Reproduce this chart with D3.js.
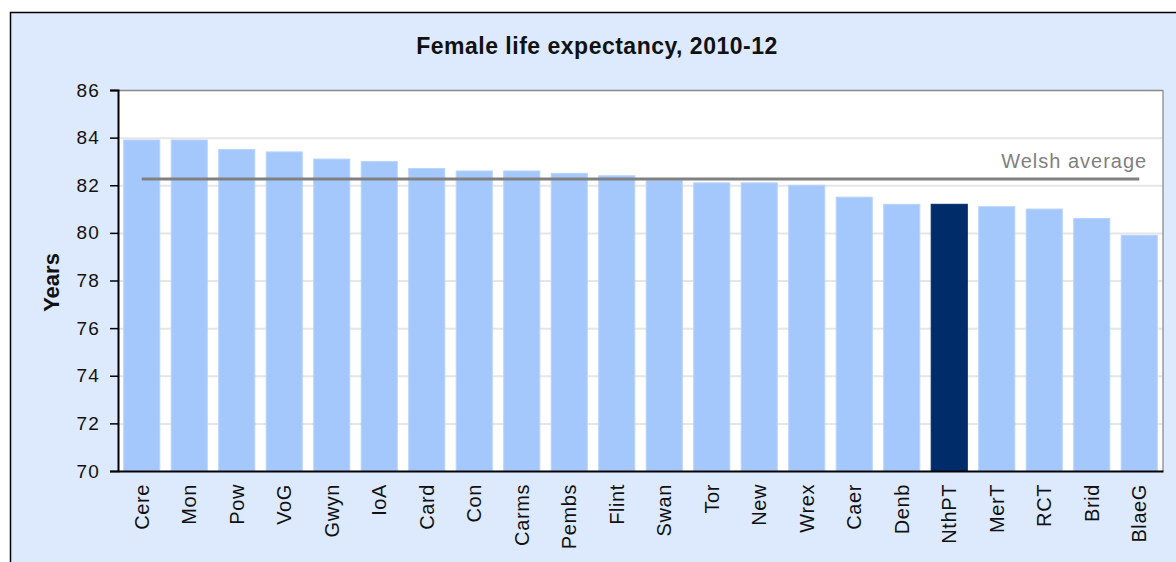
<!DOCTYPE html>
<html>
<head>
<meta charset="utf-8">
<script src="https://cdn.jsdelivr.net/npm/d3@7"></script>
<style>
  body { margin: 0; background: #fff; }
  svg { display: block; font-family: "Liberation Sans", Arial, sans-serif; }
</style>
</head>
<body>
<div id="chartHolder"></div>
<script>
// data
const areas = ["Cere", "Mon", "Pow", "VoG", "Gwyn", "IoA", "Card", "Con", "Carms", "Pembs", "Flint",
               "Swan", "Tor", "New", "Wrex", "Caer", "Denb", "NthPT", "MerT", "RCT", "Brid", "BlaeG"];
const lifeExp = [83.9, 83.9, 83.5, 83.4, 83.1, 83.0, 82.7, 82.6, 82.6, 82.5, 82.4,
                 82.2, 82.1, 82.1, 82.0, 81.5, 81.2, 81.2, 81.1, 81.0, 80.6, 79.9];
const welshAvg = 82.26;
const highlight = "NthPT";
const yTicks = [70, 72, 74, 76, 78, 80, 82, 84, 86];

const w = 1176, h = 562;
const plot = {left: 118, right: 1163, top: 90, bottom: 471};

const svg = d3.select("#chartHolder").append("svg")
  .attr("width", w).attr("height", h);

// chart frame
svg.append("rect")
  .attr("x", 10.5).attr("y", 12.5)
  .attr("width", w).attr("height", h)
  .attr("fill", "#ddeafd")
  .attr("stroke", "#000").attr("stroke-width", 1.5);

svg.append("rect")
  .attr("x", plot.left).attr("y", plot.top)
  .attr("width", plot.right - plot.left).attr("height", plot.bottom - plot.top)
  .attr("fill", "#fff");

const x = d3.scaleBand()
  .domain(areas)
  .range([plot.left, plot.right])
  .paddingInner(0.24)
  .paddingOuter(0.12);

const y = d3.scaleLinear()
  .domain([70, 86])
  .range([plot.bottom, plot.top]);

// gridlines
svg.append("g")
  .selectAll("line")
  .data(yTicks.slice(1))
  .enter().append("line")
  .attr("x1", plot.left).attr("x2", plot.right)
  .attr("y1", d => y(d) + 0.5).attr("y2", d => y(d) + 0.5)
  .attr("stroke", (d) => d == 86 ? "#888" : "#e6e6e6")
  .attr("stroke-width", (d) => d == 86 ? 1.5 : 2);

svg.append("line")
  .attr("x1", plot.right).attr("x2", plot.right)
  .attr("y1", plot.top).attr("y2", plot.bottom)
  .attr("stroke", "#999").attr("stroke-width", 1.5);

// bars
svg.append("g")
  .selectAll("rect")
  .data(areas)
  .enter().append("rect")
  .attr("x", d => x(d))
  .attr("y", (d, i) => y(lifeExp[i]))
  .attr("width", x.bandwidth())
  .attr("height", (d, i) => y(70) - y(lifeExp[i]))
  .attr("fill", d => d == highlight ? "#002d6a" : "#a4c8fc")
  .attr("stroke", d => d == highlight ? "#002d6a" : "#b8d4fc")
  .attr("stroke-width", 1);

// welsh average line
const first = areas[0], last = areas[areas.length - 1];
svg.append("line")
  .attr("x1", x(first) + x.bandwidth() / 2)
  .attr("x2", x(last) + x.bandwidth() / 2)
  .attr("y1", y(welshAvg)).attr("y2", y(welshAvg))
  .attr("stroke", "#808080").attr("stroke-width", 3);

svg.append("text")
  .attr("x", x(last) + x.bandwidth() / 2 + 8)
  .attr("y", y(welshAvg) - 11)
  .attr("text-anchor", "end")
  .attr("fill", "#808080")
  .style("font-size", "20px")
  .style("letter-spacing", "1px")
  .text("Welsh average");

// axes
const yAxis = d3.axisLeft(y).tickValues(yTicks).tickSize(8).tickPadding(10);
const gy = svg.append("g")
  .attr("transform", "translate(" + plot.left + ",0)")
  .call(yAxis);
gy.select(".domain").attr("stroke", "#000").attr("stroke-width", 2);
gy.selectAll(".tick line").attr("stroke", "#000").attr("stroke-width", 1.5);
gy.selectAll("text").style("font-size", "19px").style("letter-spacing", "1.2px").attr("fill", "#111");

const xAxis = d3.axisBottom(x).tickSize(0).tickPadding(10);
const gx = svg.append("g")
  .attr("transform", "translate(0," + plot.bottom + ")")
  .call(xAxis);
gx.select(".domain").attr("stroke", "#000").attr("stroke-width", 2);
gx.selectAll("text")
  .style("font-size", "20px")
  .style("letter-spacing", "0.6px")
  .attr("fill", "#111")
  .attr("text-anchor", "end")
  .attr("transform", "rotate(-90)")
  .attr("x", -13).attr("y", 0).attr("dy", "0.35em");

// titles
svg.append("text")
  .attr("x", 597).attr("y", 54)
  .attr("text-anchor", "middle")
  .style("font-size", "23px").style("font-weight", "bold")
  .style("letter-spacing", "0.5px")
  .attr("fill", "#111")
  .text("Female life expectancy, 2010-12");

svg.append("text")
  .attr("text-anchor", "middle")
  .attr("transform", "translate(59," + ((plot.top + plot.bottom) / 2 + 2) + ")rotate(-90)")
  .style("font-size", "22px").style("font-weight", "bold")
  .attr("fill", "#111")
  .text("Years");
</script>
</body>
</html>
